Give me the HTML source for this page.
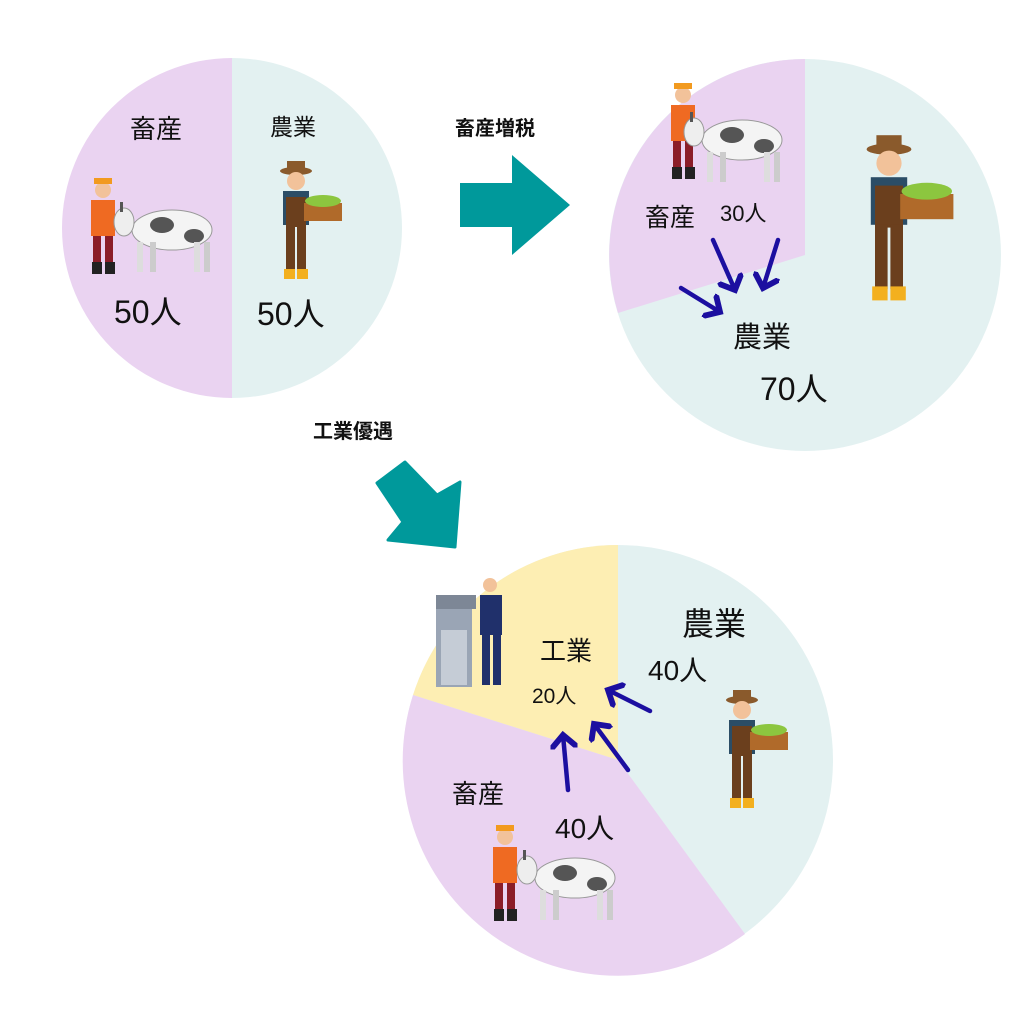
<!DOCTYPE html>
<html><head><meta charset="utf-8"><style>
body{margin:0;background:#fff;width:1024px;height:1024px;overflow:hidden}
text{font-family:"Liberation Sans","Noto Sans CJK JP",sans-serif;fill:#111}
</style></head><body>
<svg width="1024" height="1024" viewBox="0 0 1024 1024" xmlns="http://www.w3.org/2000/svg">
<defs>
<marker id="ah" markerWidth="6" markerHeight="6" refX="3" refY="3" orient="auto" markerUnits="strokeWidth">
<path d="M0,0 L3,3 L0,6" fill="none" stroke="#1c0fa0" stroke-width="1.3"/></marker>
<g id="cow">
<ellipse cx="0" cy="0" rx="40" ry="20" fill="#f4f4f4" stroke="#999" stroke-width="1"/>
<ellipse cx="-10" cy="-5" rx="12" ry="8" fill="#555"/><ellipse cx="22" cy="6" rx="10" ry="7" fill="#555"/>
<rect x="-35" y="12" width="6" height="30" fill="#ddd"/><rect x="-22" y="12" width="6" height="30" fill="#ccc"/>
<rect x="22" y="12" width="6" height="30" fill="#ddd"/><rect x="32" y="12" width="6" height="30" fill="#ccc"/>
<ellipse cx="-48" cy="-8" rx="10" ry="14" fill="#eee" stroke="#999"/><rect x="-52" y="-28" width="3" height="10" fill="#555"/>
</g>
<g id="herder">
<circle cx="0" cy="-48" r="8" fill="#f2c29a"/><rect x="-9" y="-60" width="18" height="6" fill="#f29a1f"/>
<rect x="-12" y="-38" width="24" height="36" fill="#ef6a22"/>
<rect x="-10" y="-2" width="8" height="28" fill="#8b1d28"/><rect x="2" y="-2" width="8" height="28" fill="#8b1d28"/>
<rect x="-11" y="24" width="10" height="12" fill="#222"/><rect x="2" y="24" width="10" height="12" fill="#222"/>
</g>
<g id="farmer">
<ellipse cx="0" cy="-62" rx="16" ry="4" fill="#8a5a2c"/><rect x="-9" y="-72" width="18" height="10" fill="#8a5a2c"/>
<circle cx="0" cy="-52" r="9" fill="#f2c29a"/>
<rect x="-13" y="-42" width="26" height="34" fill="#2b4d66"/><rect x="-10" y="-36" width="20" height="30" fill="#6b3f1d"/>
<rect x="-10" y="-8" width="9" height="46" fill="#6b3f1d"/><rect x="1" y="-8" width="9" height="46" fill="#6b3f1d"/>
<rect x="-12" y="36" width="11" height="10" fill="#f3b01f"/><rect x="1" y="36" width="11" height="10" fill="#f3b01f"/>
<rect x="8" y="-30" width="38" height="18" fill="#b06a2a"/><ellipse cx="27" cy="-32" rx="18" ry="6" fill="#8cc63f"/>
</g>
</defs>

<!-- circle 1 -->
<path d="M232,58 A170,170 0 0,0 232,398 Z" fill="#ead3f1"/>
<path d="M232,58 A170,170 0 0,1 232,398 Z" fill="#e3f1f1"/>
<text x="130" y="138" font-size="26">畜産</text>
<text x="270" y="135" font-size="23">農業</text>
<text x="114" y="323" font-size="32">50人</text>
<text x="257" y="325" font-size="32">50人</text>
<use href="#herder" x="103" y="238"/>
<use href="#cow" x="172" y="230"/>
<use href="#farmer" x="296" y="233"/>

<!-- arrow right -->
<path d="M460,183 H512 V155 L570,205 L512,255 V227 H460 Z" fill="#00999b"/>
<text x="455" y="135" font-size="20" font-weight="bold">畜産増税</text>

<!-- circle 2 -->
<circle cx="805" cy="255" r="196" fill="#e3f1f1"/>
<path d="M805,255 L805,59 A196,196 0 0,0 618,313 Z" fill="#ead3f1"/>
<use href="#herder" x="683" y="143"/>
<use href="#cow" x="742" y="140"/>
<use href="#farmer" x="889" y="236" transform="translate(889,236) scale(1.4) translate(-889,-236)"/>
<text x="645" y="226" font-size="25">畜産</text>
<text x="720" y="221" font-size="22">30人</text>
<text x="733" y="347" font-size="29">農業</text>
<text x="760" y="400" font-size="32">70人</text>
<g stroke="#1c0fa0" stroke-width="4.5" fill="none" stroke-linecap="round" marker-end="url(#ah)">
<line x1="713" y1="240" x2="735" y2="290"/>
<line x1="778" y1="240" x2="763" y2="288"/>
<line x1="681" y1="288" x2="720" y2="312"/>
</g>

<!-- diagonal arrow -->
<text x="313" y="438" font-size="20" font-weight="bold">工業優遇</text>
<path d="M377,483 L405,462 L437,495 L460,482 L455,547 L388,540 L403,522 Z" fill="#00999b" stroke="#00999b" stroke-width="3" stroke-linejoin="round"/>

<!-- circle 3 -->
<circle cx="618" cy="760" r="215" fill="#e3f1f1"/>
<path d="M618,760 L618,545 A215,215 0 0,0 413,695 Z" fill="#fdeeb3"/>
<path d="M618,760 L413,695 A215,215 0 0,0 745,934 Z" fill="#ead3f1"/>
<rect x="436" y="595" width="36" height="92" fill="#9aa5b5"/><rect x="441" y="630" width="26" height="55" fill="#c5ccd6"/>
<rect x="436" y="595" width="40" height="14" fill="#7d8796"/>
<circle cx="490" cy="585" r="7" fill="#f2c29a"/><rect x="480" y="595" width="22" height="40" fill="#20306b"/>
<rect x="482" y="635" width="8" height="50" fill="#20306b"/><rect x="493" y="635" width="8" height="50" fill="#20306b"/>
<text x="540" y="660" font-size="26">工業</text>
<text x="532" y="703" font-size="21">20人</text>
<text x="682" y="635" font-size="32">農業</text>
<text x="648" y="680" font-size="28">40人</text>
<use href="#farmer" x="742" y="762"/>
<text x="452" y="803" font-size="26">畜産</text>
<text x="555" y="838" font-size="28">40人</text>
<use href="#herder" x="505" y="885"/>
<use href="#cow" x="575" y="878"/>
<g stroke="#1c0fa0" stroke-width="4.5" fill="none" stroke-linecap="round" marker-end="url(#ah)">
<line x1="650" y1="711" x2="608" y2="690"/>
<line x1="628" y1="770" x2="594" y2="724"/>
<line x1="568" y1="790" x2="563" y2="735"/>
</g>
</svg>
</body></html>
